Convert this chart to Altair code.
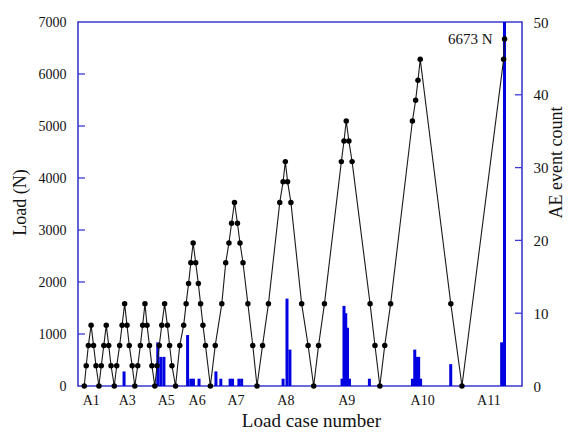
import altair as alt
import pandas as pd

# ---- data ----
# sequence position (arbitrary time units along the test) and applied load (N)
load_t = [1.3, 3.3, 5.5, 8.3, 10.8, 13.3, 16.3,
          18.7, 21.3, 23.8, 26.3, 28.7, 32.0,
          34.5, 37.5, 40.0, 42.6, 45.0, 47.3, 50.3, 53.0,
          56.0, 58.7, 61.0, 63.4, 65.5, 68.0, 70.5, 73.5,
          75.7, 78.0, 80.6, 83.5, 86.3, 88.6, 91.0, 94.7,
          99.0, 103.0, 105.5, 108.0, 110.3, 112.7, 115.3, 118.0, 120.3, 122.7, 125.3, 130.3,
          135.3, 142.0, 146.0, 149.3, 152.0, 155.0, 158.0, 160.6, 163.7, 168.7, 173.7, 178.0,
          183.7, 189.7, 201.3, 204.7, 207.0, 209.3, 212.7, 223.7, 230.3, 236.0,
          241.0, 247.0, 264.3, 267.0, 269.3, 272.0, 275.3, 293.7, 298.7, 303.7,
          308.7, 314.7, 337.0, 340.3, 342.7, 345.0, 376.3, 387.7,
          430.3, 431.3]
load_n = [0, 390, 780, 1170, 780, 390, 0,
          390, 780, 1170, 780, 390, 0,
          390, 780, 1170, 1580, 1170, 780, 390, 0,
          390, 780, 1170, 1580, 1170, 780, 390, 0,
          390, 780, 1170, 1580, 1170, 780, 390, 0,
          780, 1170, 1580, 1970, 2370, 2750, 2370, 1970, 1580, 1170, 780, 0,
          780, 1580, 2370, 2750, 3130, 3530, 3130, 2750, 2370, 1580, 780, 0,
          780, 1580, 3530, 3930, 4315, 3930, 3530, 1580, 780, 0,
          780, 1580, 4315, 4712, 5096, 4712, 4315, 1580, 780, 0,
          780, 1580, 5096, 5494, 5879, 6282, 1580, 0,
          6282, 6673]

# acoustic emission event counts
ae_t = [42.0, 76.5, 79.6, 82.8, 107.0, 110.3, 113.0, 118.7,
        136.0, 141.0, 150.5, 153.0, 159.5, 162.3,
        204.7, 208.7, 211.7,
        265.0, 267.0, 268.8, 270.6, 272.6, 293.0,
        337.0, 339.4, 341.4, 343.4, 345.4, 376.2,
        428.3, 431.2]
ae_count = [2, 6, 4, 4, 7, 1, 1, 1,
            2, 1, 1, 1, 1, 1,
            1, 12, 5,
            1, 11, 10, 8, 1, 1,
            1, 5, 4, 4, 1, 3,
            6, 50]

case_t = [8.0, 44.7, 84.7, 116.3, 156.0, 207.0, 269.3, 347.0, 414.7]
case_labels = ["A1", "A3", "A5", "A6", "A7", "A8", "A9", "A10", "A11"]

load_ticks = [0, 1000, 2000, 3000, 4000, 5000, 6000, 7000]
ae_ticks = [0, 10, 20, 30, 40, 50]

peak_label = "6673 N"
peak_t = 431.3
peak_load = 6673

# ---- styling ----
FONT = "Liberation Serif, Tinos, Times New Roman, DejaVu Serif, serif"
FRAME = "#3a3ad2"
BAR = "#0000e0"
TXT = "#111111"

load_df = pd.DataFrame({"t": load_t, "load": load_n})
ae_df = pd.DataFrame({"t": ae_t, "count": ae_count})
lt_df = pd.DataFrame({"load": load_ticks[1:-1]})
rt_df = pd.DataFrame({"count": ae_ticks[1:-1]})
note_df = pd.DataFrame({"t": [peak_t], "load": [peak_load], "label": [peak_label]})

label_expr = "[" + ",".join("'%s'" % s for s in case_labels) + "][indexof([" + \
    ",".join(str(v) for v in case_t) + "], datum.value)]"

x_scale = alt.Scale(domain=[0, 444], nice=False, zero=False)
x_axis = alt.Axis(title="Load case number", values=case_t, labelExpr=label_expr,
                  ticks=False, domain=False, grid=False, labelOverlap=False, labelFlush=False,
                  labelFont=FONT, labelFontSize=14, labelColor=TXT, labelPadding=7,
                  labelBaseline="top",
                  titleFont=FONT, titleFontSize=19, titleFontWeight="normal", titleColor=TXT,
                  titleX=233, titleY=40, titleBaseline="alphabetic")

load_scale = alt.Scale(domain=[0, 7000], nice=False, zero=True)
load_axis = alt.Axis(orient="left", title="Load (N)", values=load_ticks, ticks=False,
                     format="d",
                     domain=False, grid=False, labelFont=FONT, labelFontSize=14,
                     labelColor=TXT, labelPadding=12,
                     titleFont=FONT, titleFontSize=18, titleFontWeight="normal",
                     titleColor=TXT, titleX=-58, titleY=180, titleBaseline="middle",
                     titleAngle=270)

ae_scale = alt.Scale(domain=[0, 50], nice=False, zero=True)
ae_axis = alt.Axis(orient="right", title="AE event count", values=ae_ticks, ticks=False,
                   format="d",
                   domain=False, grid=False, labelFont=FONT, labelFontSize=15,
                   labelColor=TXT, labelPadding=11,
                   titleFont=FONT, titleFontSize=18, titleFontWeight="normal",
                   titleColor=TXT, titleX=34, titleY=140, titleBaseline="middle",
                   titleAngle=270)

X = alt.X("t:Q", scale=x_scale, axis=x_axis)

bars = alt.Chart(ae_df).mark_bar(color=BAR, size=3, clip=True).encode(
    x=X, y=alt.Y("count:Q", scale=ae_scale, axis=ae_axis))
rticks = alt.Chart(rt_df).mark_rule(color=FRAME, strokeWidth=1.3).encode(
    y=alt.Y("count:Q", scale=ae_scale, axis=ae_axis),
    x=alt.value(444), x2=alt.value(437))

line = alt.Chart(load_df).mark_line(color="#1a1a1a", strokeWidth=1.1).encode(
    x=X, y=alt.Y("load:Q", scale=load_scale, axis=load_axis))
points = alt.Chart(load_df).mark_circle(color="#000000", size=30, opacity=1).encode(
    x=X, y=alt.Y("load:Q", scale=load_scale, axis=load_axis))
lticks = alt.Chart(lt_df).mark_rule(color=FRAME, strokeWidth=1.3).encode(
    y=alt.Y("load:Q", scale=load_scale, axis=load_axis),
    x=alt.value(0), x2=alt.value(7))
note = alt.Chart(note_df).mark_text(align="right", baseline="middle", dx=-12,
                                    font=FONT, fontSize=15, color=TXT).encode(
    x=X, y=alt.Y("load:Q", scale=load_scale, axis=load_axis), text="label:N")

right_layer = alt.layer(bars, rticks)
left_layer = alt.layer(line, points, lticks, note)

chart = alt.layer(right_layer, left_layer).resolve_scale(y="independent").properties(
    width=444, height=364,
    autosize=alt.AutoSizeParams(type="none"),
    padding={"left": 70, "top": 14, "right": 43, "bottom": 44},
    background="white",
).configure_view(stroke=FRAME, strokeWidth=1.6)

chart.save("out.html", embed_options={"renderer": "svg", "actions": False})
